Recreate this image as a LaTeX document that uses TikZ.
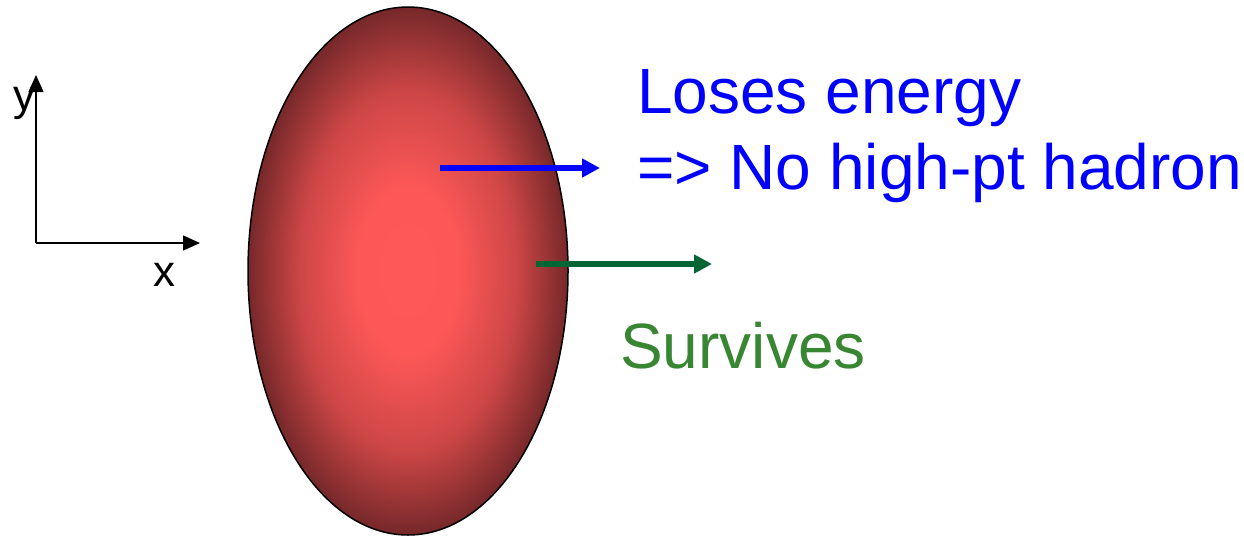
\documentclass[tikz,border=0pt]{standalone}
\usepackage{fontspec}
\setmainfont{Liberation Sans}
\usetikzlibrary{shapes.geometric, arrows.meta, positioning}
\definecolor{FireCore}{RGB}{255, 88, 88}
\definecolor{FireMid}{RGB}{205, 70, 70}
\definecolor{FireEdge}{RGB}{118, 40, 42}
\definecolor{LossBlue}{RGB}{0, 0, 255}
\definecolor{PassGreen}{RGB}{0, 102, 51}
\definecolor{PassText}{RGB}{56, 134, 50}
\pgfdeclareradialshading{fireball}{\pgfpoint{0bp}{0bp}}{%
  color(0bp)=(FireCore); color(8bp)=(FireCore!95!FireMid);
  color(17bp)=(FireMid); color(25bp)=(FireEdge); color(50bp)=(FireEdge)}
\tikzset{
  axis/.style={line width=1.5pt, -{Triangle[length=17pt, width=15pt]}},
  track/.style={line width=6pt, -{Triangle[length=18pt, width=18pt]}},
  bigtext/.style={font=\fontsize{64}{70}\selectfont, anchor=base west, inner sep=0pt},
  axtext/.style={font=\fontsize{44}{50}\selectfont, inner sep=0pt}
}

\begin{document}
\begin{tikzpicture}[x=1pt, y=-1pt]
    \useasboundingbox (0,0) rectangle (1244,536);
    % medium
    \node[ellipse, draw=black, line width=1.5pt, shading=fireball,
      minimum width=320pt, minimum height=528pt, inner sep=0pt] (medium) at (408,271) {};
    % axes
    \coordinate (origin) at (36,243);
    \coordinate (ytip) at (36,75);
    \coordinate (xtip) at (200,243);
    \draw[axis] (origin) -- (ytip);
    \draw[axis] (origin) -- (xtip);
    \node[axtext, anchor=base] (ylabel) at (24,110) {y};
    \node[axtext, anchor=base] (xlabel) at (164,286) {x};
    % tracks
    \coordinate (lossstart) at (440,168);
    \coordinate (lossend) at (600,168);
    \coordinate (passstart) at (536,264);
    \coordinate (passend) at (712,264);
    \draw[track, LossBlue] (lossstart) -- (lossend);
    \draw[track, PassGreen] (passstart) -- (passend);
    % labels
    \node[bigtext, text=LossBlue] (loses) at (637,113) {Loses energy};
    \node[bigtext, text=LossBlue] (nohadron) at (637,189) {=> No high-pt hadron};
    \node[bigtext, text=PassText] (survives) at (620,368) {Survives};
\end{tikzpicture}
\end{document}
